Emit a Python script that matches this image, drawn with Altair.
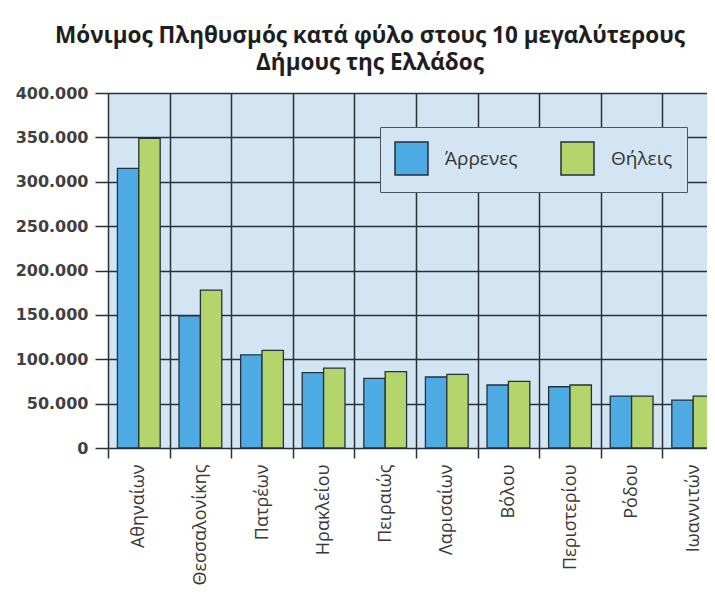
import altair as alt
import pandas as pd

cities = ["Αθηναίων", "Θεσσαλονίκης", "Πατρέων", "Ηρακλείου", "Πειραιώς",
          "Λαρισαίων", "Βόλου", "Περιστερίου", "Ρόδου", "Ιωαννιτών"]
males = [315000, 149000, 105000, 85000, 78500, 80000, 71000, 69000, 58500, 54000]
females = [349000, 178000, 110000, 90000, 86000, 83000, 75000, 71000, 58500, 58500]
sexes = ["Άρρενες", "Θήλεις"]
colors = ["#4eaae2", "#b4d56b"]

rows = []
for c, m, f in zip(cities, males, females):
    rows.append({"city": c, "sex": sexes[0], "value": m})
    rows.append({"city": c, "sex": sexes[1], "value": f})
df = pd.DataFrame(rows)

dark = "#26313a"
bg = "#d3e4f3"

chart = alt.Chart(df).mark_bar(stroke=dark, strokeWidth=1.3).encode(
    x=alt.X("city:N", sort=cities, title=None,
            scale=alt.Scale(paddingInner=0, paddingOuter=0, range=[0, 616]),
            axis=alt.Axis(tickBand="extent", grid=True, gridColor=dark, gridWidth=1.5,
                          gridOpacity=1, domain=False, ticks=True, tickSize=10,
                          tickColor=dark, tickWidth=1.5, labelAngle=270,
                          labelAlign="right", labelBaseline="middle", labelPadding=6,
                          labelFont="Open Sans", labelFontSize=18, labelColor="#383838")),
    xOffset=alt.XOffset("sex:N", sort=sexes,
                        scale=alt.Scale(paddingInner=0, paddingOuter=0.44)),
    y=alt.Y("value:Q", title=None,
            scale=alt.Scale(domain=[0, 400000], nice=False),
            axis=alt.Axis(values=[0, 50000, 100000, 150000, 200000, 250000, 300000, 350000, 400000],
                          labelExpr="replace(format(datum.value, ',d'), ',', '.')",
                          grid=True, gridColor=dark, gridWidth=1.5, gridOpacity=1,
                          domain=False, tickSize=13, tickColor=dark, tickWidth=1.5,
                          labelPadding=7, labelFont="DejaVu Sans", labelFontSize=16,
                          labelFontWeight="bold", labelColor="#404040")),
    color=alt.Color("sex:N", sort=sexes,
                    scale=alt.Scale(domain=sexes, range=colors),
                    legend=alt.Legend(title=None, orient="none", legendX=272, legendY=34,
                                      direction="horizontal", symbolType="square",
                                      symbolSize=1089, symbolStrokeColor=dark,
                                      symbolStrokeWidth=1.5, symbolOpacity=1,
                                      labelFont="Open Sans", labelFontSize=19,
                                      labelColor="#333333", fillColor=bg,
                                      strokeColor="#4a5560", padding=14,
                                      columnPadding=40, labelOffset=16)),
).properties(
    width=599,
    height=355,
    title=alt.TitleParams(
        ["Μόνιμος Πληθυσμός κατά φύλο στους 10 μεγαλύτερους", "Δήμους της Ελλάδος"],
        font="Open Sans", fontSize=22.5, fontWeight="bold", color="#1e1e1e",
        anchor="middle", frame="bounds", offset=11, lineHeight=27),
    autosize=alt.AutoSizeParams(type="none"),
    padding={"left": 100, "top": 85, "right": 0, "bottom": 139},
).configure_view(fill=bg, stroke=None)

chart.save("out.html", embed_options={"renderer": "svg", "actions": False})
